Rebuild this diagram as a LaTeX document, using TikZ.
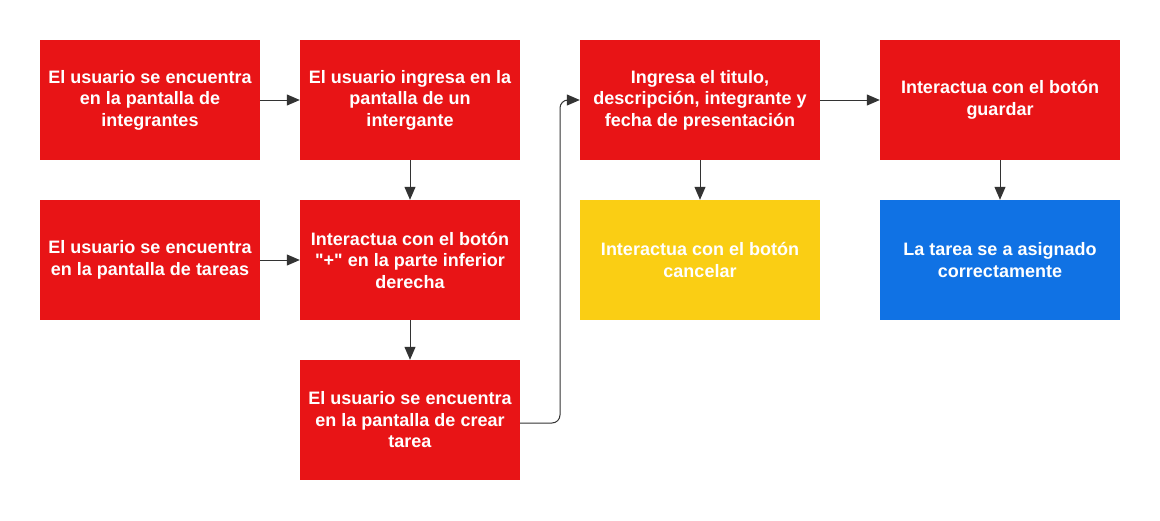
\documentclass[tikz,border=0pt]{standalone}
\usepackage{fontspec}
\setmainfont{Liberation Sans}[Ligatures=TeXOff]
\usetikzlibrary{arrows.meta}
\definecolor{bred}{RGB}{232,20,22}
\definecolor{byellow}{RGB}{250,206,20}
\definecolor{bblue}{RGB}{16,114,228}
\definecolor{lcol}{RGB}{51,51,51}
\begin{document}
\begin{tikzpicture}[x=1pt,y=-1pt,
  box/.style={rectangle, fill=bred, draw=none, minimum height=120pt, inner sep=0pt,
    text=white, font=\fontsize{18}{21.5}\selectfont\bfseries, align=center},
  narrow/.style={minimum width=220pt},
  wide/.style={minimum width=240pt},
  conn/.style={draw=lcol, line width=1pt, -{Triangle[length=13pt,width=11pt]}}]
\useasboundingbox (0,0) rectangle (1160,520);
\node[box,narrow] (a) at (150,100) {El usuario se encuentra\\en la pantalla de\\integrantes};
\node[box,narrow] (b) at (410,100) {El usuario ingresa en la\\pantalla de un\\intergante};
\node[box,narrow] (c) at (150,260) {El usuario se encuentra\\en la pantalla de tareas};
\node[box,narrow] (d) at (410,260) {Interactua con el botón\\"+" en la parte inferior\\derecha};
\node[box,narrow] (e) at (410,420) {El usuario se encuentra\\en la pantalla de crear\\tarea};
\node[box,wide] (f) at (700,100) {Ingresa el titulo,\\descripción, integrante y\\fecha de presentación};
\node[box,wide,fill=byellow] (g) at (700,260) {Interactua con el botón\\cancelar};
\node[box,wide] (h) at (1000,100) {Interactua con el botón\\guardar};
\node[box,wide,fill=bblue] (i) at (1000,260) {La tarea se a asignado\\correctamente};
\coordinate (k) at (560,0);
\draw[conn] (a) -- (b);
\draw[conn] (b) -- (d);
\draw[conn] (c) -- (d);
\draw[conn] (d) -- (e);
\draw[conn, rounded corners=8pt] (e.east |- 0,423) -| (k |- f.west) -- (f.west);
\draw[conn] (f) -- (h);
\draw[conn] (f) -- (g);
\draw[conn] (h) -- (i);
\end{tikzpicture}
\end{document}
